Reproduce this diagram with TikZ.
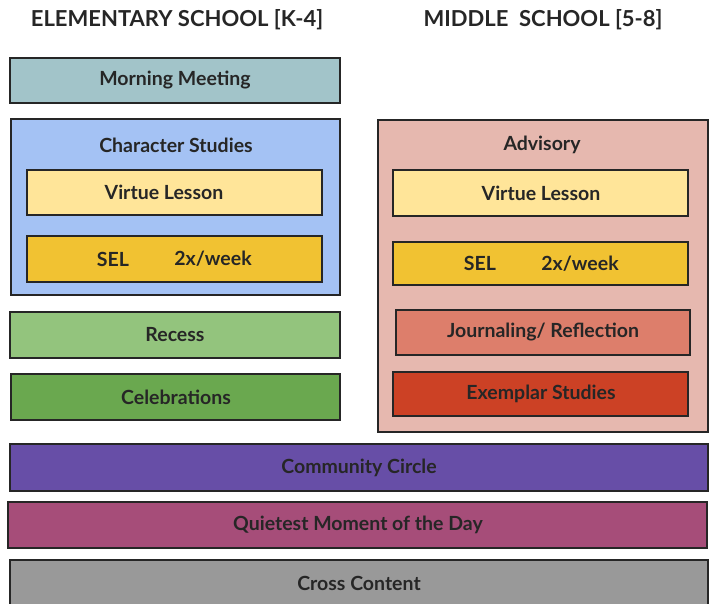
\documentclass[tikz,border=0pt]{standalone}
\usepackage{fontspec}
\setmainfont{Lato}
\definecolor{teal}{HTML}{A2C4C9}
\definecolor{charblue}{HTML}{A4C2F4}
\definecolor{lightyel}{HTML}{FFE599}
\definecolor{darkyel}{HTML}{F1C232}
\definecolor{lightgreen}{HTML}{93C47D}
\definecolor{darkgreen}{HTML}{6AA84F}
\definecolor{advpink}{HTML}{E6B8AF}
\definecolor{journred}{HTML}{DD7E6B}
\definecolor{exred}{HTML}{CC4125}
\definecolor{circpurple}{HTML}{674EA7}
\definecolor{quietmag}{HTML}{A64D79}
\definecolor{crossgray}{HTML}{999999}
\definecolor{ink}{HTML}{262626}
\tikzset{box/.style={draw=ink,line width=1.6pt},
  lbl/.style={text=ink,font=\bfseries\fontsize{19.5}{22}\selectfont},
  head/.style={text=ink,font=\bfseries\fontsize{22}{25}\selectfont}}
\begin{document}
\begin{tikzpicture}[x=1pt,y=-1pt]
\useasboundingbox (0,0) rectangle (710,603);
%rubriker
\node[head] (elem) at (177,20){ELEMENTARY SCHOOL [K-4]};
\node[head] (mid) at (543,20){MIDDLE \ SCHOOL [5-8]};

%vänster kolumn
\draw[box,fill=teal] (10,58) rectangle (340,103);
\node[lbl] (morning) at (175,80.5){Morning Meeting};
\draw[box,fill=charblue] (11,119) rectangle (340,295);%ram Character Studies
\node[lbl] (charst) at (176,145){Character Studies};
\draw[box,fill=lightyel] (27,170) rectangle (322,215);
\node[lbl] (virtueL) at (164,192.5){Virtue Lesson};
\draw[box,fill=darkyel] (27,236) rectangle (322,282);
\node[lbl] (selL) at (113,259){SEL};
\node[lbl] (weekL) at (213,259){2x/week};
\draw[box,fill=lightgreen] (10,312) rectangle (340,358);
\node[lbl] (recess) at (175,335){Recess};
\draw[box,fill=darkgreen] (11,374) rectangle (340,420);
\node[lbl] (celeb) at (176,397){Celebrations};

%höger kolumn
\draw[box,fill=advpink] (378,120) rectangle (708,432);%ram Advisory
\node[lbl] (advis) at (542,145){Advisory};
\draw[box,fill=lightyel] (393,170) rectangle (688,216);
\node[lbl] (virtueR) at (541,193){Virtue Lesson};
\draw[box,fill=darkyel] (393,242) rectangle (688,285);
\node[lbl] (selR) at (480,263.5){SEL};
\node[lbl] (weekR) at (580,263.5){2x/week};
\draw[box,fill=journred] (396,310) rectangle (690,355);
\node[lbl] (journ) at (543,332.5){Journaling/ Reflection};
\draw[box,fill=exred] (393,372) rectangle (688,416);
\node[lbl] (exempl) at (541,394){Exemplar Studies};

%hela bredden
\draw[box,fill=circpurple] (10,444) rectangle (708,491);
\node[lbl] (circle) at (359,467.5){Community Circle};
\draw[box,fill=quietmag] (8,502) rectangle (707,548);
\node[lbl] (quiet) at (358,525){Quietest Moment of the Day};
\draw[box,fill=crossgray] (10,560) rectangle (708,612);
\node[lbl] (cross) at (359,583){Cross Content};
\end{tikzpicture}
\end{document}
